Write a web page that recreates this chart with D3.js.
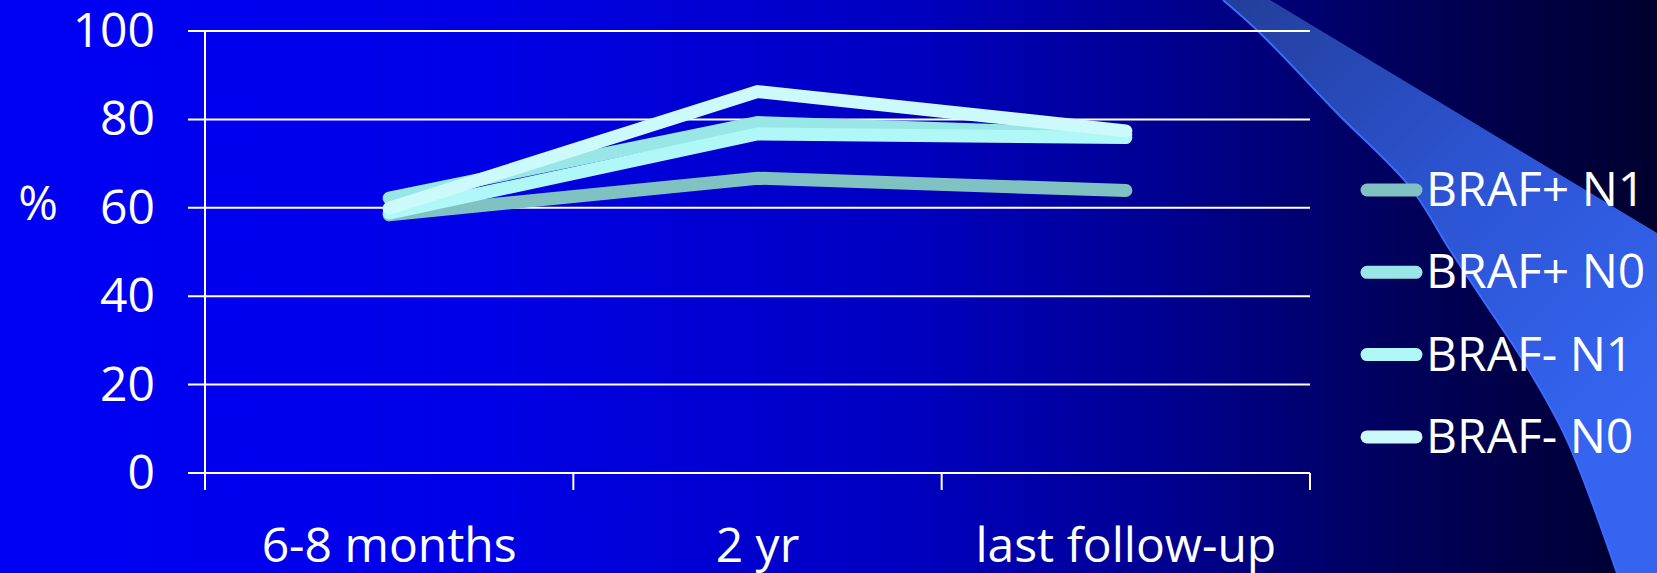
<!DOCTYPE html>
<html>
<head>
<meta charset="utf-8">
<script src="https://cdn.jsdelivr.net/npm/d3@7/dist/d3.min.js"></script>
<style>
  html, body { margin: 0; padding: 0; background: #000080; overflow: hidden; }
  svg { display: block; }
  text { font-family: 'Comic Sans MS', 'Open Sans', sans-serif; fill: #ffffff; }
</style>
</head>
<body>
<script>
// ---- data ----
const categories = ["6-8 months", "2 yr", "last follow-up"];
const seriesNames = ["BRAF+ N1", "BRAF+ N0", "BRAF- N1", "BRAF- N0"];
const brafPosN1 = [58.4, 66.7, 63.9];
const brafPosN0 = [62.2, 79.3, 76.5];
const brafNegN1 = [58.8, 76.7, 75.9];
const brafNegN0 = [59.9, 86.3, 77.4];
const yTicks = [0, 20, 40, 60, 80, 100];
const yLabel = "%";

const seriesValues = [brafPosN1, brafPosN0, brafNegN1, brafNegN0];
const colors = ["#80c2c2", "#99e6e6", "#b0f8f8", "#ccf9f9"];

const W = 1657, H = 573;
const svg = d3.select("body").append("svg").attr("width", W).attr("height", H);
const defs = svg.append("defs");

// background gradient
const bg = defs.append("linearGradient").attr("id", "bg").attr("x1", 0).attr("x2", 1).attr("y1", 0).attr("y2", 0);
[[0, "#0000f6"], [0.3, "#0000e6"], [0.55, "#0000c0"], [0.7, "#000092"], [0.85, "#00005a"], [1, "#00002e"]]
  .forEach(([o, c]) => bg.append("stop").attr("offset", o).attr("stop-color", c));
svg.append("rect").attr("width", W).attr("height", H).attr("fill", "url(#bg)");

// decorative swoosh
const sw = defs.append("linearGradient").attr("id", "sw").attr("gradientUnits", "userSpaceOnUse")
  .attr("x1", 1240).attr("y1", 0).attr("x2", 1640).attr("y2", 400);
sw.append("stop").attr("offset", 0).attr("stop-color", "#233f9c");
sw.append("stop").attr("offset", 0.5).attr("stop-color", "#2c54d2");
sw.append("stop").attr("offset", 1).attr("stop-color", "#3464f0");
const curvePts = [[1223, 0], [1260, 33], [1337, 113], [1410, 187], [1450, 250], [1483, 300], [1527, 367], [1567, 440], [1617, 573]];
const curveGen = d3.line().curve(d3.curveCatmullRom);
const curveD = curveGen(curvePts);
const revD = curveGen(curvePts.slice().reverse());
svg.append("path")
  .attr("d", "M1270,0 L1657,233 L1657,573 L1617,573 " + revD.replace(/^M[^CL]*/, "L1617,573 ") + " Z")
  .attr("fill", "url(#sw)");
svg.append("path").attr("d", curveD).attr("fill", "none").attr("stroke", "#3a6cff").attr("stroke-width", 2);

// scales
const x = d3.scaleBand().domain(categories).range([205, 1310]);
const y = d3.scaleLinear().domain([0, 100]).range([473, 31]);
const xRight = x.range()[1];

// gridlines + left ticks
const g = svg.append("g");
g.selectAll("line.grid").data(yTicks).join("line")
  .attr("x1", 188).attr("x2", xRight)
  .attr("y1", d => y(d)).attr("y2", d => y(d))
  .attr("stroke", "#ffffff").attr("stroke-width", 2);
// y axis line
g.append("line").attr("x1", 205).attr("x2", 205).attr("y1", y(100)).attr("y2", y(0) + 17)
  .attr("stroke", "#ffffff").attr("stroke-width", 2);
// x ticks at band boundaries
const xTickPos = categories.map(c => x(c)).concat([xRight]);
g.selectAll("line.xt").data(xTickPos).join("line")
  .attr("x1", d => d).attr("x2", d => d)
  .attr("y1", y(0)).attr("y2", y(0) + 17)
  .attr("stroke", "#ffffff").attr("stroke-width", 2);

// y tick labels
svg.selectAll("text.yl").data(yTicks).join("text")
  .attr("x", 155).attr("y", d => y(d) + 16)
  .attr("text-anchor", "end").attr("font-size", 48)
  .text(d => d);
// x labels
svg.selectAll("text.xl").data(categories).join("text")
  .attr("x", d => x(d) + x.bandwidth() / 2).attr("y", 562)
  .attr("text-anchor", "middle").attr("font-size", 48)
  .text(d => d);
// y title
svg.append("text").attr("x", 38).attr("y", 220).attr("text-anchor", "middle").attr("font-size", 48).text(yLabel);

// series lines
const line = d3.line().x((d, i) => x(categories[i]) + x.bandwidth() / 2).y(d => y(d));
svg.selectAll("path.series").data(seriesValues).join("path")
  .attr("d", d => line(d))
  .attr("fill", "none")
  .attr("stroke", (d, i) => colors[i])
  .attr("stroke-width", 13)
  .attr("stroke-linecap", "round")
  .attr("stroke-linejoin", "miter");

// legend
const lg = svg.append("g");
seriesNames.forEach((name, i) => {
  const cy = 190 + i * 82.3;
  lg.append("line").attr("x1", 1367).attr("x2", 1416).attr("y1", cy).attr("y2", cy)
    .attr("stroke", colors[i]).attr("stroke-width", 13).attr("stroke-linecap", "round");
  lg.append("text").attr("x", 1426).attr("y", cy + 16).attr("font-size", 48).text(name);
});
</script>
</body>
</html>
